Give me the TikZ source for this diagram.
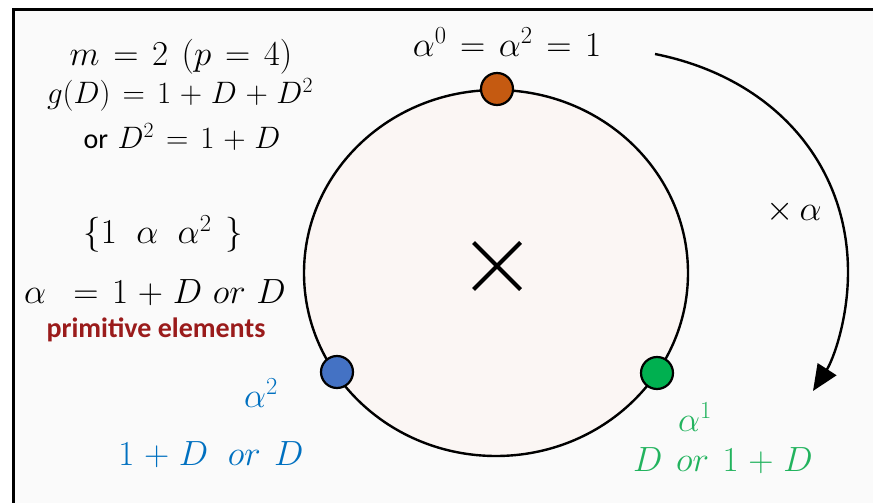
\RequirePackage{fix-cm}
\documentclass[tikz,border=0pt]{standalone}
\usepackage{fontspec}
\newfontfamily\carl{Carlito}
\usepackage{tikz}
\usetikzlibrary{arrows.meta,shapes.misc}
\definecolor{panel}{HTML}{FAFAFA}
\definecolor{disc}{HTML}{FBF6F4}
\definecolor{elemorange}{HTML}{C55A11}
\definecolor{elemblue}{HTML}{4472C4}
\definecolor{elemgreen}{HTML}{00B050}
\definecolor{txtblue}{HTML}{0070C0}
\definecolor{txtgreen}{HTML}{22B35E}
\definecolor{primred}{HTML}{9A1B1B}
\newcommand\wideops{\thickmuskip=7mu\relax\medmuskip=5mu\relax}

\begin{document}
\begin{tikzpicture}[x=1pt,y=-1pt,
  eq/.style={font=\fontsize{31}{36}\selectfont\wideops},
  eqbig/.style={font=\fontsize{35}{40}\selectfont\wideops},
  prim/.style={font=\fontsize{28}{32}\selectfont\carl\bfseries,text=primred},
  blu/.style={eqbig,text=txtblue},
  grn/.style={eqbig,text=txtgreen},
  ring/.style={draw=black,line width=2.4pt,fill=disc},
  elem/.style={circle,draw=black,line width=2.2pt,minimum size=32pt,inner sep=0pt},
  mult/.style={draw=black,line width=2.4pt,-{Triangle[length=26pt,width=22pt]}},
]
\useasboundingbox (0,0) rectangle (873,503);
\clip (0,0) rectangle (873,503);
\draw[line width=3pt,fill=panel] (13.5,9.5) rectangle (890,520);

% the field as a ring
\draw[ring] (496,273) ellipse [x radius=192pt, y radius=183pt];
\node[cross out,draw,line width=4pt,minimum size=43pt,inner sep=0pt] (ctr) at (497,266) {};
\node[elem,fill=elemorange] (a0) at (497,89) {};
\node[elem,fill=elemblue] (a2) at (337,372) {};
\node[elem,fill=elemgreen] (a1) at (657,373) {};

% left column
\node[eqbig] (mdeg) at (181,57) {$m = 2\;(p = 4)$};
\node[eq] (gpoly) at (180,95) {$g(D) = 1 + D + D^2$};
\node[eq] (gred) at (182,137) {{\carl\fontsize{28}{32}\selectfont or} $D^2 = 1 + D$};
\node[eqbig] (field) at (163,234) {$\{1\;\,\alpha\;\,\alpha^2\;\}$};
\node[eqbig] (alpha) at (155,293) {$\alpha\;= 1 + D\ or\ D$};
\node[prim] (primlbl) at (156,330) {primitive elements};

% powers of alpha
\node[eqbig] (top) at (507,42) {$\alpha^0 = \alpha^2 = 1$};
\node[blu] (a2pow) at (261,393) {$\alpha^2$};
\node[blu] (a2val) at (211,455) {$1 + D\;\,or\;D$};
\node[grn] (a1pow) at (695,417) {$\alpha^1$};
\node[grn] (a1val) at (723,461) {$D\;or\;1 + D$};

% step by alpha
\coordinate (arrS) at (655,54);
\coordinate (arrE) at (813,391);
\draw[mult] (arrS) .. controls (775,78) and (848,165) .. (848,272) .. controls (848,320) and (833,360) .. (arrE);
\node[eqbig] (times) at (794,212) {$\times\,\alpha$};
\end{tikzpicture}
\end{document}
